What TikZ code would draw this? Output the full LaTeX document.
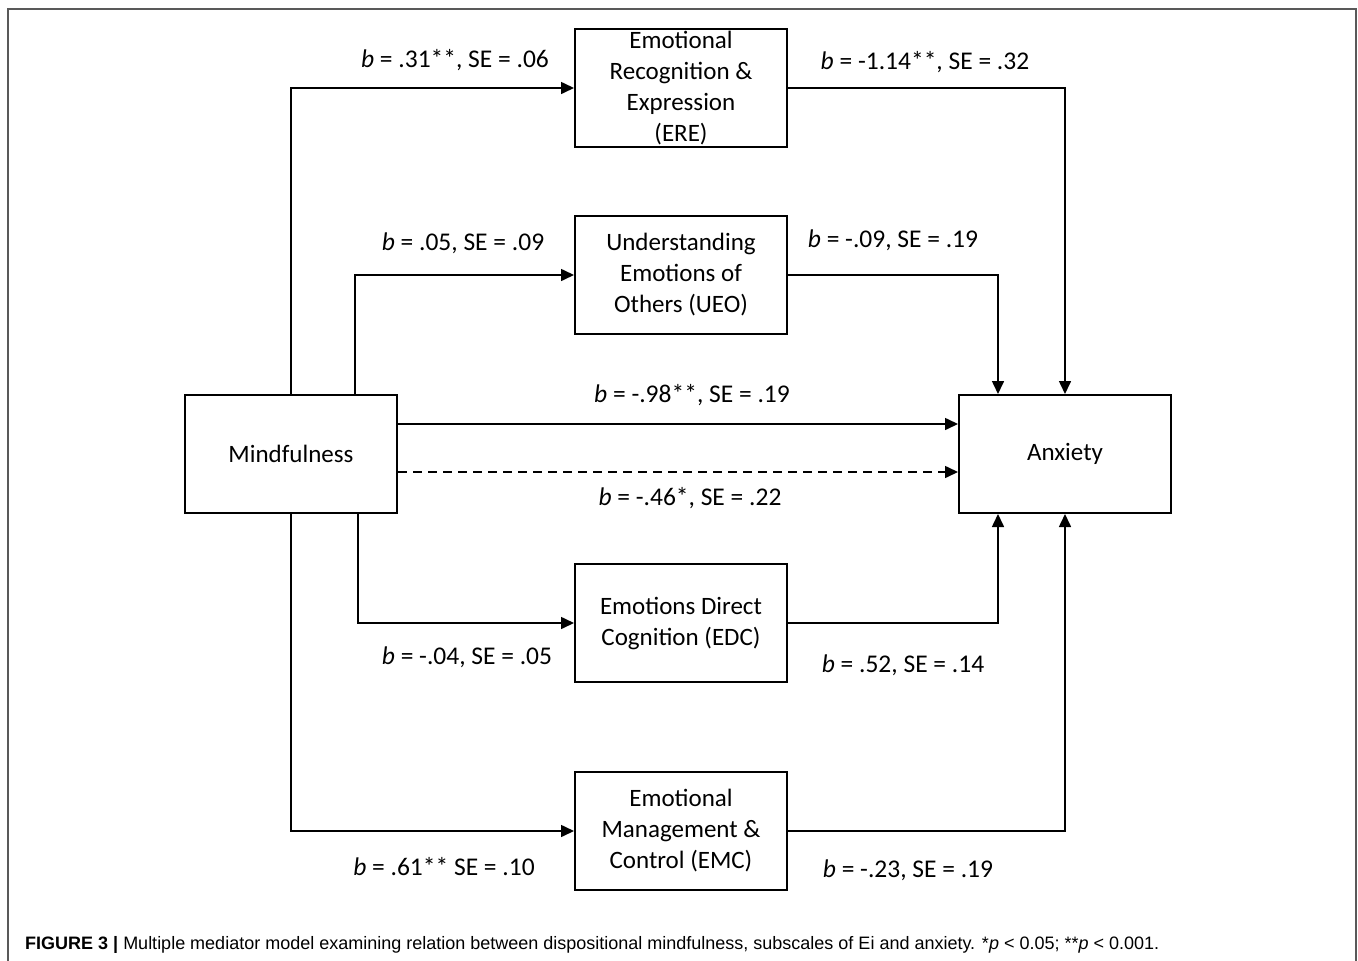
\documentclass[tikz,border=0pt]{standalone}
\usepackage{fontspec}
\setmainfont{Carlito}
\newfontfamily\capfont{Liberation Sans}
\usetikzlibrary{arrows.meta}

\begin{document}
\begin{tikzpicture}[x=1pt,y=-1pt,
    box/.style={rectangle,draw=black,line width=2pt,minimum width=212pt,minimum height=118pt,inner sep=1pt,align=center,font=\fontsize{25}{31}\selectfont},
    link/.style={line width=1.6pt,-{Triangle[length=13pt,width=12pt]}},
    lab/.style={font=\fontsize{25.5}{28}\selectfont},
    ]
    \useasboundingbox (0,0) rectangle (1358,961);
    \draw[gray!70!black,line width=1.5pt] (8,961) -- (8,9) -- (1356,9) -- (1356,961);
    % boxes
    \node[box] (ERE) at (681,88) {Emotional\\Recognition \&\\Expression\\(ERE)};
    \node[box] (UEO) at (681,275) {Understanding\\Emotions of\\Others (UEO)};
    \node[box] (MIN) at (291,454) {Mindfulness};
    \node[box] (ANX) at (1065,454) {Anxiety};
    \node[box] (EDC) at (681,623) {Emotions Direct\\Cognition (EDC)};
    \node[box] (EMC) at (681,831) {Emotional\\Management \&\\Control (EMC)};
    % paths
    \draw[link] (MIN.north) |- (ERE.west);
    \draw[link] ([xshift=64pt]MIN.north) |- (UEO.west);
    \draw[link] (ERE.east) -| (ANX.north);
    \draw[link] (UEO.east) -| ([xshift=-67pt]ANX.north);
    \draw[link] ([yshift=30pt]MIN.east) -- ([yshift=30pt]ANX.west);
    \draw[link,dashed,dash pattern=on 9pt off 6pt] ([yshift=-18pt]MIN.east) -- ([yshift=-18pt]ANX.west);
    \draw[link] ([xshift=67pt]MIN.south) |- (EDC.west);
    \draw[link] (EDC.east) -| ([xshift=-67pt]ANX.south);
    \draw[link] (MIN.south) |- (EMC.west);
    \draw[link] (EMC.east) -| (ANX.south);
    % coefficients
    \node[lab] (bERE) at (455,60) {\textit{b} = .31**, SE = .06};
    \node[lab] (cERE) at (925,62) {\textit{b} = -1.14**, SE = .32};
    \node[lab] (bUEO) at (463,243) {\textit{b} = .05, SE = .09};
    \node[lab] (cUEO) at (893,240) {\textit{b} = -.09, SE = .19};
    \node[lab] (direct) at (692,395) {\textit{b} = -.98**, SE = .19};
    \node[lab] (indirect) at (690,498) {\textit{b} = -.46*, SE = .22};
    \node[lab] (bEDC) at (467,657) {\textit{b} = -.04, SE = .05};
    \node[lab] (cEDC) at (903,665) {\textit{b} = .52, SE = .14};
    \node[lab] (bEMC) at (444,867) {\textit{b} = .61** SE = .10};
    \node[lab] (cEMC) at (908,870) {\textit{b} = -.23, SE = .19};
    % caption
    \node[anchor=base west,inner sep=0pt,font=\capfont\fontsize{18}{20}\selectfont] (cap) at (25,949)
        {\textbf{FIGURE 3 |} Multiple mediator model examining relation between dispositional mindfulness, subscales of Ei and anxiety. *\textit{p} < 0.05; **\textit{p} < 0.001.};
\end{tikzpicture}
\end{document}
